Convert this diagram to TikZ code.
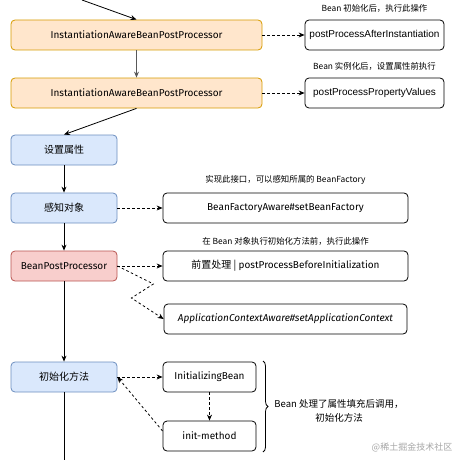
\documentclass[tikz,border=0pt]{standalone}
\usepackage{fontspec}
\setmainfont{Liberation Sans}
\newfontfamily\cjk{Noto Sans CJK SC}
\newfontfamily\hand{Fira Sans}
\usetikzlibrary{arrows.meta,positioning,decorations.pathreplacing}

\definecolor{hookfill}{HTML}{FFE6CC}
\definecolor{hookdraw}{HTML}{D79B00}
\definecolor{stagefill}{HTML}{DAE8FC}
\definecolor{stagedraw}{HTML}{6C8EBF}
\definecolor{alertfill}{HTML}{F8CECC}
\definecolor{alertdraw}{HTML}{B85450}

\tikzset{%
  box/.style={draw, rounded corners=4pt, minimum height=30pt, inner sep=0pt, line width=0.8pt, font=\hand\fontsize{10}{12}\selectfont},
  hookbox/.style={box, draw=hookdraw, fill=hookfill, minimum width=251pt},
  stagebox/.style={box, draw=stagedraw, fill=stagefill, minimum width=106pt},
  alertbox/.style={box, draw=alertdraw, fill=alertfill, minimum width=106pt},
  methodbox/.style={box, draw=black, fill=white},
  nota/.style={font=\cjk\fontsize{8.4}{10}\selectfont, inner sep=0pt},
  line/.style={draw, line width=0.8pt, color=black, -{Stealth[length=6pt,width=5pt]}},
  linepart/.style={line, dash pattern=on 2.5pt off 2.5pt},
}

\begin{document}
\begin{tikzpicture}[x=1pt, y=-1pt]
\useasboundingbox (0,0) rectangle (460,460);
\coordinate (top) at (82,0);
\coordinate (bottom) at (64,460);
% main chain
\node[hookbox] (iab1) at (136.5,35) {InstantiationAwareBeanPostProcessor};
\node[hookbox] (iab2) at (136.5,93) {InstantiationAwareBeanPostProcessor};
\node[stagebox, font=\cjk\fontsize{10}{12}\selectfont] (set) at (64,150) {设置属性};
\node[stagebox, font=\cjk\fontsize{10}{12}\selectfont] (aware) at (64,208) {感知对象};
\node[alertbox] (bpp) at (64,266) {BeanPostProcessor};
\node[stagebox, font=\cjk\fontsize{10}{12}\selectfont] (init) at (64,377) {初始化方法};
% right side
\node[methodbox, minimum width=139pt, font=\fontsize{10}{12}\selectfont] (after) at (374.5,35) {postProcessAfterInstantiation};
\node[methodbox, minimum width=139pt, font=\fontsize{10}{12}\selectfont] (prop) at (374.5,93) {postProcessPropertyValues};
\node[methodbox, minimum width=245pt] (bfa) at (285.5,208) {BeanFactoryAware\#setBeanFactory};
\node[methodbox, minimum width=245pt] (before) at (285.5,266) {{\cjk\fontsize{10}{12}\selectfont 前置处理 | }postProcessBeforeInitialization};
\node[methodbox, minimum width=243pt, font=\hand\itshape\fontsize{10}{12}\selectfont] (aca) at (285.5,319) {ApplicationContextAware\#setApplicationContext};
\node[methodbox, minimum width=93pt] (ib) at (209.5,377) {InitializingBean};
\node[methodbox, minimum width=93pt] (im) at (209.5,436) {init-method};
% notes
\node[nota] (n1) [above=7pt of after] {Bean 初始化后，执行此操作};
\node[nota] (n2) [above=7pt of prop] {Bean 实例化后，设置属性前执行};
\node[nota] (n3) [above=8pt of bfa] {实现此接口，可以感知所属的 BeanFactory};
\node[nota] (n4) [above=5pt of before] {在 Bean 对象执行初始化方法前，执行此操作};
\draw[line width=0.8pt, decorate, decoration={brace, amplitude=5pt}] (263,361) -- (263,452);
\node[font=\cjk\fontsize{9.5}{14}\selectfont, align=center] (n5) at (339,411) {Bean 处理了属性填充后调用，\\初始化方法};
\node[font=\cjk\fontsize{9}{11}\selectfont, text=black!35] (mark) at (412,447) {@稀土掘金技术社区};
% connectors
\draw[line] (top) -- (iab1.north);
\draw[line, color=black!65] (iab1) -- (iab2);
\draw[line] (iab2.south) -- (set.north);
\draw[line] (set) -- (aware);
\draw[line] (aware) -- (bpp);
\draw[line] (bpp) -- (init);
\draw[line width=0.8pt] (init) -- (bottom);
\draw[linepart] (iab1) -- (after);
\draw[linepart] (iab2) -- (prop);
\draw[linepart] (aware) -- (bfa);
\draw[linepart] (bpp) -- (before);
\draw[linepart] (bpp.east) -- ++(36,18) -- ++(-22,14) -- (aca.west);
\draw[linepart] (init) -- (ib);
\draw[linepart] (ib) -- (im);
\draw[linepart] ([yshift=5pt]im.west) -- (init.east);
\end{tikzpicture}
\end{document}
